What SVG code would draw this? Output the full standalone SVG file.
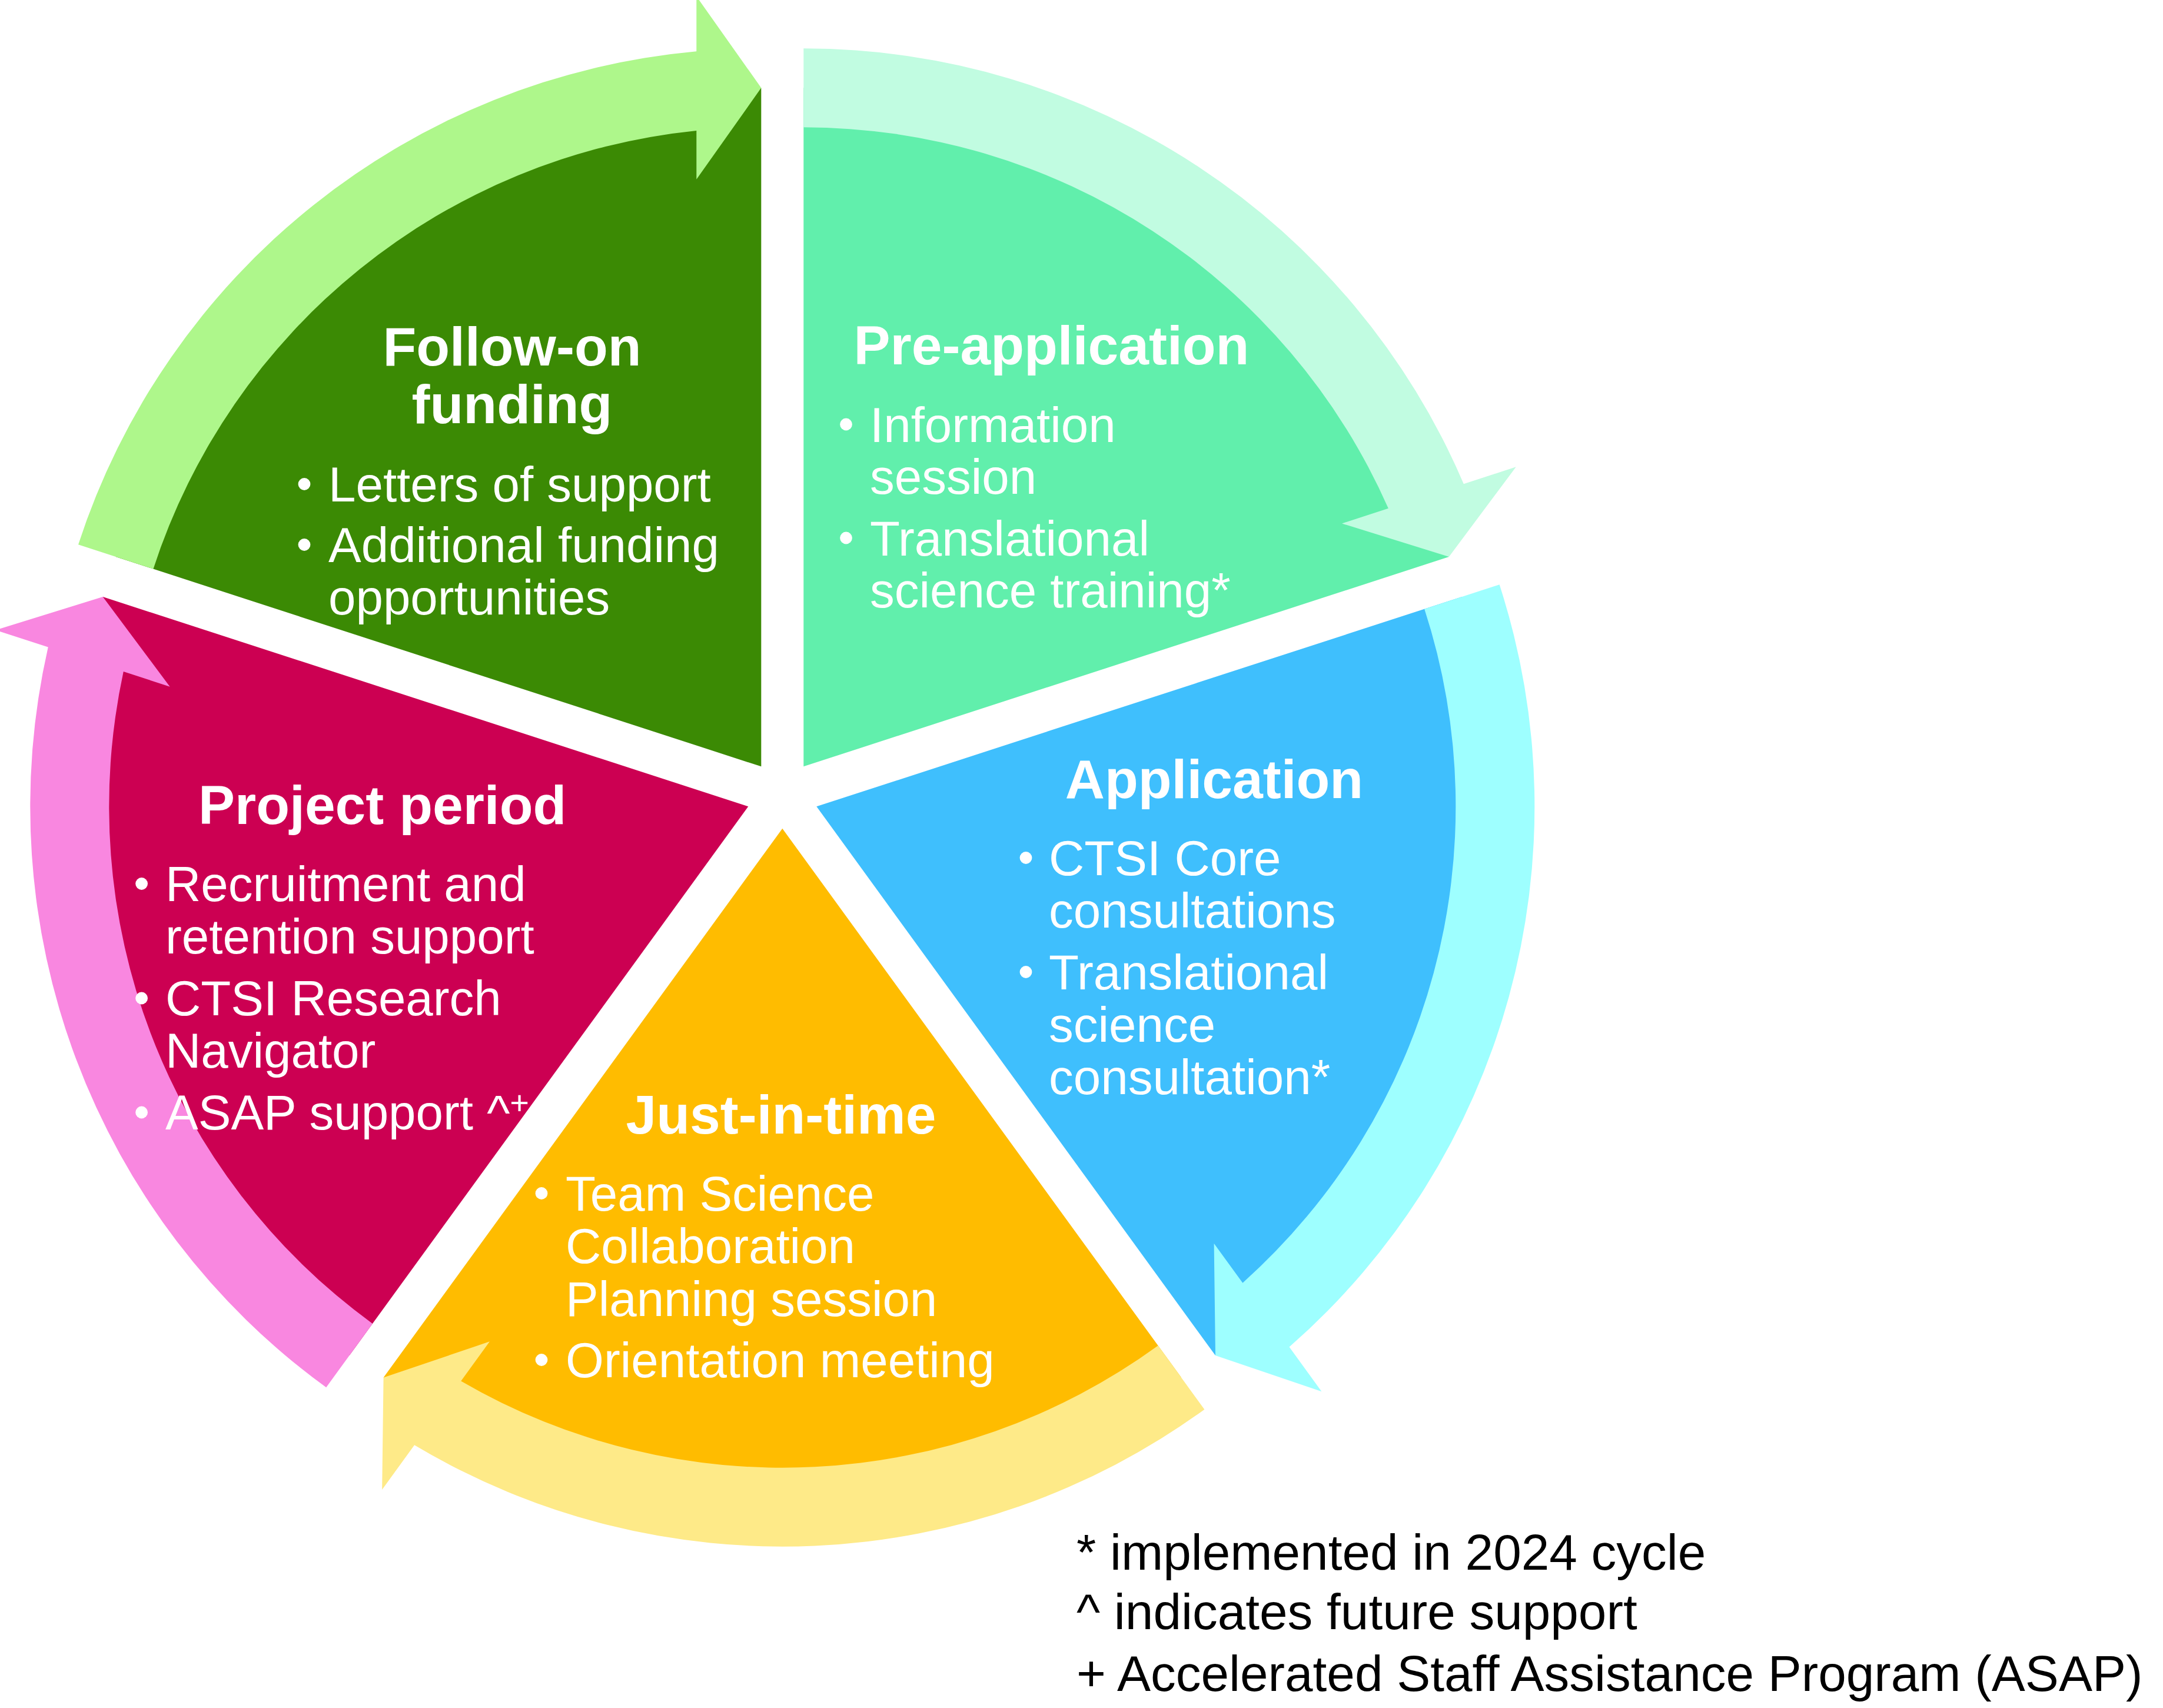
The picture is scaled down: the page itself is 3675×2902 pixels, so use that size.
<svg xmlns="http://www.w3.org/2000/svg" width="3675" height="2902" viewBox="0 0 3675 2902">
<style>
.title{font-family:"Liberation Sans",Arial,sans-serif;font-weight:bold;font-size:93px;fill:#fff;text-anchor:middle}
.item{font-family:"Liberation Sans",Arial,sans-serif;font-size:83.5px;fill:#fff}
.note{font-family:"Liberation Sans",Arial,sans-serif;font-size:85.5px;fill:#000}
.dot{fill:#fff}
</style>
<rect width="3675" height="2902" fill="#fff"/>
<!-- node sectors -->
<g id="node-follow-on-funding">
<path fill="#3B8A04" d="M1293.3,1302.3 L196.73,946 A1153,1153 0 0 1 1293.3,149.3 Z"/>
</g>
<g id="node-pre-application">
<path fill="#61EFAC" d="M1365.3,1302.3 L1365.3,149.3 A1153,1153 0 0 1 2461.87,946 Z"/>
</g>
<g id="node-application">
<path fill="#3FBFFD" d="M1387.3,1370.3 L2483.87,1014 A1153,1153 0 0 1 2065.02,2303.1 Z"/>
</g>
<g id="node-just-in-time">
<path fill="#FFBC00" d="M1329.3,1407.7 L2007.02,2340.5 A1153,1153 0 0 1 651.58,2340.5 Z"/>
</g>
<g id="node-project-period">
<path fill="#CC0052" d="M1271.3,1370.3 L593.58,2303.1 A1153,1153 0 0 1 174.73,1014 Z"/>
</g>
<!-- connectors: circular arrows -->
<g id="connectors">
<path id="arrow-follow-on-to-pre" fill="#AEF78B" d="M133.01,925.3 A1220,1220 0 0 1 1183.3,87.27 L1183.3,-6.2 L1293.3,149.3 L1183.3,304.8 L1183.3,221.89 A1086,1086 0 0 0 260.45,966.71 Z"/>
<path id="arrow-pre-to-application" fill="#C1FCE1" d="M1365.3,82.3 A1220,1220 0 0 1 2486.87,822.21 L2575.77,793.33 L2461.87,946 L2279.99,889.44 L2358.84,863.81 A1086,1086 0 0 0 1365.3,216.3 Z"/>
<path id="arrow-application-to-jit" fill="#9EFFFF" d="M2547.59,993.3 A1220,1220 0 0 1 2190.46,2288.62 L2245.41,2364.24 L2065.02,2303.1 L2062.61,2112.63 L2111.34,2179.71 A1086,1086 0 0 0 2420.15,1034.71 Z"/>
<path id="arrow-jit-to-project" fill="#FEEA88" d="M2046.4,2394.7 A1220,1220 0 0 1 704.12,2455.34 L649.17,2530.96 L651.58,2340.5 L831.97,2279.35 L783.24,2346.43 A1086,1086 0 0 0 1967.64,2286.29 Z"/>
<path id="arrow-project-to-follow-on" fill="#F987E0" d="M554.2,2357.3 A1220,1220 0 0 1 81.75,1099.45 L-7.15,1070.57 L174.73,1014 L288.63,1166.68 L209.78,1141.05 A1086,1086 0 0 0 632.96,2248.89 Z"/>
</g>
<!-- node labels -->
<g id="node-follow-on-funding-label">
<text class="title" x="870" y="621">Follow-on</text>
<text class="title" x="870" y="719">funding</text>
<circle class="dot" cx="517" cy="822.5" r="10.4"/>
<text class="item" x="558" y="852">Letters of support</text>
<circle class="dot" cx="517" cy="925.5" r="10.4"/>
<text class="item" x="558" y="955">Additional funding</text>
<text class="item" x="558" y="1044">opportunities</text>
</g>
<g id="node-pre-application-label">
<text class="title" x="1786.5" y="619">Pre-application</text>
<circle class="dot" cx="1437.5" cy="721" r="10.4"/>
<text class="item" x="1478" y="750.5">Information</text>
<text class="item" x="1478" y="839">session</text>
<circle class="dot" cx="1437.5" cy="914" r="10.4"/>
<text class="item" x="1478" y="943.5">Translational</text>
<text class="item" x="1478" y="1032">science training*</text>
</g>
<g id="node-application-label">
<text class="title" x="2063" y="1355.5">Application</text>
<circle class="dot" cx="1743" cy="1457.5" r="10.4"/>
<text class="item" x="1782" y="1487">CTSI Core</text>
<text class="item" x="1782" y="1576">consultations</text>
<circle class="dot" cx="1743" cy="1651.5" r="10.4"/>
<text class="item" x="1782" y="1681">Translational</text>
<text class="item" x="1782" y="1769.5">science</text>
<text class="item" x="1782" y="1859">consultation*</text>
</g>
<g id="node-just-in-time-label">
<text class="title" x="1327" y="1925.6">Just-in-time</text>
<circle class="dot" cx="920" cy="2027.5" r="10.4"/>
<text class="item" x="961" y="2057">Team Science</text>
<text class="item" x="961" y="2146">Collaboration</text>
<text class="item" x="961" y="2235.5">Planning session</text>
<circle class="dot" cx="920" cy="2310.5" r="10.4"/>
<text class="item" x="961" y="2340">Orientation meeting</text>
</g>
<g id="node-project-period-label">
<text class="title" x="649.7" y="1400.4">Project period</text>
<circle class="dot" cx="240.6" cy="1501.5" r="10.4"/>
<text class="item" x="281" y="1531.3">Recruitment and</text>
<text class="item" x="281" y="1620.2">retention support</text>
<circle class="dot" cx="240.6" cy="1696" r="10.4"/>
<text class="item" x="281" y="1725.3">CTSI Research</text>
<text class="item" x="281" y="1813.6">Navigator</text>
<circle class="dot" cx="240.6" cy="1890" r="10.4"/>
<text class="item" x="281" y="1918.7">ASAP support ^<tspan font-size="56" dy="-26">+</tspan></text>
</g>
<g id="footnotes">
<text class="note" x="1829" y="2666.7">* implemented in 2024 cycle</text>
<text class="note" x="1829" y="2768.3">^ indicates future support</text>
<text class="note" x="1829" y="2872.7">+ Accelerated Staff Assistance Program (ASAP)</text>
</g>
</svg>
